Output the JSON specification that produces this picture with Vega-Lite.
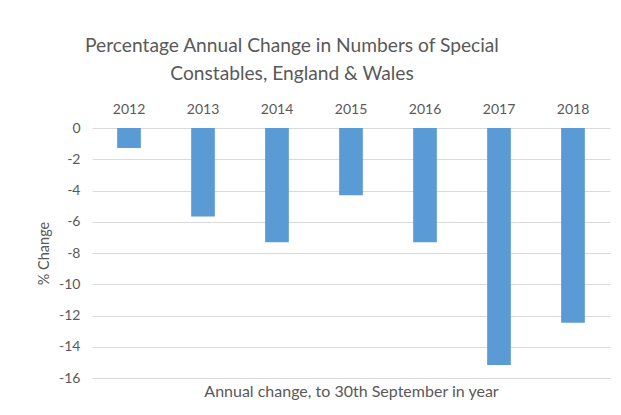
{
  "$schema": "https://vega.github.io/schema/vega-lite/v6.json",
  "width": 518,
  "height": 250,
  "autosize": "none",
  "padding": {"left": 92, "top": 128, "right": 11, "bottom": 37},
  "background": "white",
  "config": {
    "font": "Lato",
    "view": {"stroke": null}
  },
  "title": {
    "text": ["Percentage Annual Change in Numbers of Special", "Constables, England & Wales"],
    "fontSize": 19.2,
    "font": "Lato",
    "fontWeight": "normal",
    "color": "#595959",
    "lineHeight": 27.5,
    "anchor": "middle",
    "dx": -59,
    "offset": 18
  },
  "data": {
    "values": [
      {"year": "2012", "change": -1.28},
      {"year": "2013", "change": -5.67},
      {"year": "2014", "change": -7.31},
      {"year": "2015", "change": -4.3},
      {"year": "2016", "change": -7.31},
      {"year": "2017", "change": -15.17},
      {"year": "2018", "change": -12.46}
    ]
  },
  "resolve": {"axis": {"x": "independent"}},
  "layer": [
    {
      "mark": {"type": "bar", "color": "#5B9BD5"},
      "encoding": {
        "x": {
          "field": "year",
          "type": "ordinal",
          "scale": {"paddingInner": 0.68, "paddingOuter": 0.34},
          "axis": {
            "orient": "top",
            "title": null,
            "labelAngle": 0,
            "labelFontSize": 14,
            "labelColor": "#595959",
            "labelPadding": 12,
            "domain": false,
            "ticks": false
          }
        },
        "y": {
          "field": "change",
          "type": "quantitative",
          "scale": {"domain": [-16, 0], "nice": false},
          "axis": {
            "values": [0, -2, -4, -6, -8, -10, -12, -14, -16],
            "labelExpr": "'' + datum.value",
            "labelOverlap": false,
            "title": "% Change",
            "titleFontSize": 14.5,
            "titleFontWeight": "normal",
            "titleColor": "#595959",
            "titlePadding": 7,
            "labelFontSize": 14,
            "labelColor": "#595959",
            "labelPadding": 12,
            "domain": false,
            "ticks": false,
            "gridColor": "#D9D9D9",
            "gridWidth": 1
          }
        }
      }
    },
    {
      "mark": {"type": "bar", "opacity": 0},
      "encoding": {
        "x": {
          "field": "year",
          "type": "ordinal",
          "axis": {
            "orient": "bottom",
            "title": "Annual change, to 30th September in year",
            "titleFontSize": 16,
            "titleFontWeight": "normal",
            "titleColor": "#595959",
            "titlePadding": 5,
            "labels": false,
            "domain": false,
            "ticks": false
          }
        }
      }
    }
  ]
}
